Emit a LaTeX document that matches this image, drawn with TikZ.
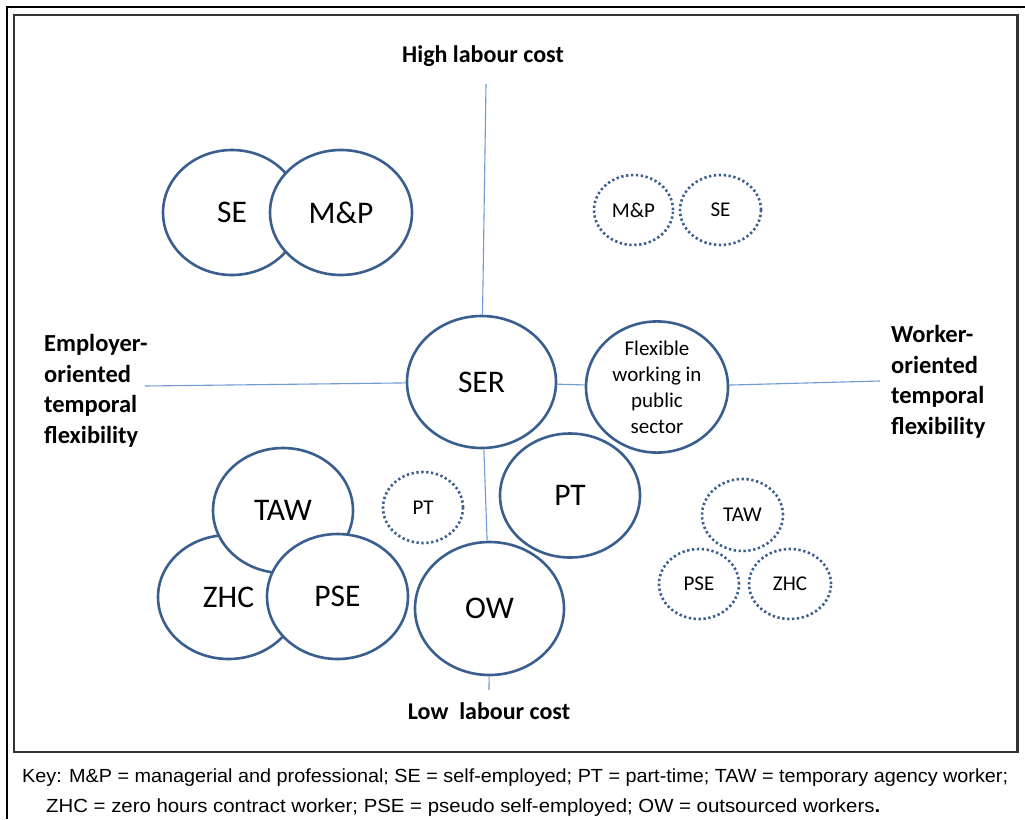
\documentclass[tikz,border=0pt]{standalone}
\usepackage{fontspec}
\usepackage{graphicx}
\setmainfont{Carlito}
\newfontfamily\keyfont{Liberation Sans}
\usetikzlibrary{shapes.geometric}
\definecolor{ringblue}{HTML}{3A5F8F}
\definecolor{axisblue}{HTML}{6F9BD1}
\begin{document}
\begin{tikzpicture}[x=1pt,y=-1pt,
  ring/.style={ellipse, draw=ringblue, line width=2.6pt, fill=white, inner sep=0pt, font=\fontsize{31.5}{36}\selectfont},
  dotring/.style={ellipse, draw=ringblue, line width=2.6pt, dash pattern=on 2.3pt off 2.6pt, inner sep=0pt, font=\fontsize{21}{24}\selectfont},
  axis/.style={draw=axisblue, line width=1.1pt},
  axislabel/.style={font=\bfseries\fontsize{24}{30}\selectfont, inner sep=0pt},
  sidelabel/.style={font=\bfseries\fontsize{24.5}{30.5}\selectfont, align=left, inner sep=0pt, anchor=west},
  keyline/.style={anchor=base west, inner sep=0pt}
]
\useasboundingbox (0,0) rectangle (1025,819);
\fill[white] (0,0) rectangle (1025,819);
% frames
\draw[line width=2pt] (6.5,819) -- (6.5,6.5) -- (1025,6.5);
\draw[line width=2.6pt, black!80] (14,15) rectangle (1017.5,752);

% axis end points
\coordinate (top) at (486,84);
\coordinate (bot) at (489,690);
\coordinate (lft) at (145,386);
\coordinate (rgt) at (880,381);

% central ellipses
\node[ring, minimum width=149pt, minimum height=132pt] (ser) at (481.5,382) {SER};
\node[ring, minimum width=142pt, minimum height=123pt, font=\fontsize{21}{26}\selectfont, align=center] (flex) at (657,387) {Flexible\\working in\\public\\sector};
\node[ring, minimum width=140pt, minimum height=124pt] (pt) at (570,495.5) {PT};
\node[ring, minimum width=149pt, minimum height=133pt] (ow) at (489.5,608.5) {OW};

% axes
\draw[axis] (top) -- (ser);
\draw[axis] (ser) -- (ow);
\draw[axis] (ow) -- (bot);
\draw[axis] (lft) -- (ser);
\draw[axis] (ser) -- (flex);
\draw[axis] (flex) -- (rgt);

% top-left group
\node[ring, minimum width=138pt, minimum height=125pt] (se) at (232,212.5) {SE};
\node[ring, minimum width=142pt, minimum height=125pt] (mp) at (341,212.5) {M\&P};

% bottom-left group
\node[ring, minimum width=141pt, minimum height=124pt] (zhc) at (228.5,597) {ZHC};
\node[ring, minimum width=140pt, minimum height=125pt] (taw) at (283,510.5) {TAW};
\node[ring, minimum width=141pt, minimum height=125pt] (pse) at (337.5,596.5) {PSE};

% dotted ellipses
\node[dotring, minimum width=79pt, minimum height=70pt] (mpd) at (633.5,210) {M\&P};
\node[dotring, minimum width=81pt, minimum height=70pt] (sed) at (720.5,210) {SE};
\node[dotring, minimum width=80pt, minimum height=71pt] (ptd) at (423,507.5) {PT};
\node[dotring, minimum width=81pt, minimum height=72pt] (tawd) at (742.5,515) {TAW};
\node[dotring, minimum width=80pt, minimum height=70pt] (psed) at (699,584) {PSE};
\node[dotring, minimum width=82pt, minimum height=70pt] (zhcd) at (790,584) {ZHC};

% axis labels
\node[axislabel] (high) at (483,56) {High labour cost};
\node[axislabel] (low) at (489,711) {Low\hspace{0.45em}labour cost};
\node[sidelabel] (emp) at (44,391) {Employer-\\oriented\\temporal\\flexibility};
\node[sidelabel] (wrk) at (891,382) {Worker-\\oriented\\temporal\\flexibility};

% key
\node[keyline] (key1) at (22,782) {\resizebox{986pt}{\height}{\keyfont\fontsize{19}{22}\selectfont Key: M\&P = managerial and professional; SE = self-employed; PT = part-time; TAW = temporary agency worker;}};
\node[keyline] (key2) at (46,812) {\resizebox{834pt}{\height}{\keyfont\fontsize{19}{22}\selectfont ZHC = zero hours contract worker; PSE = pseudo self-employed; OW = outsourced workers{\bfseries .}}};
\end{tikzpicture}
\end{document}
